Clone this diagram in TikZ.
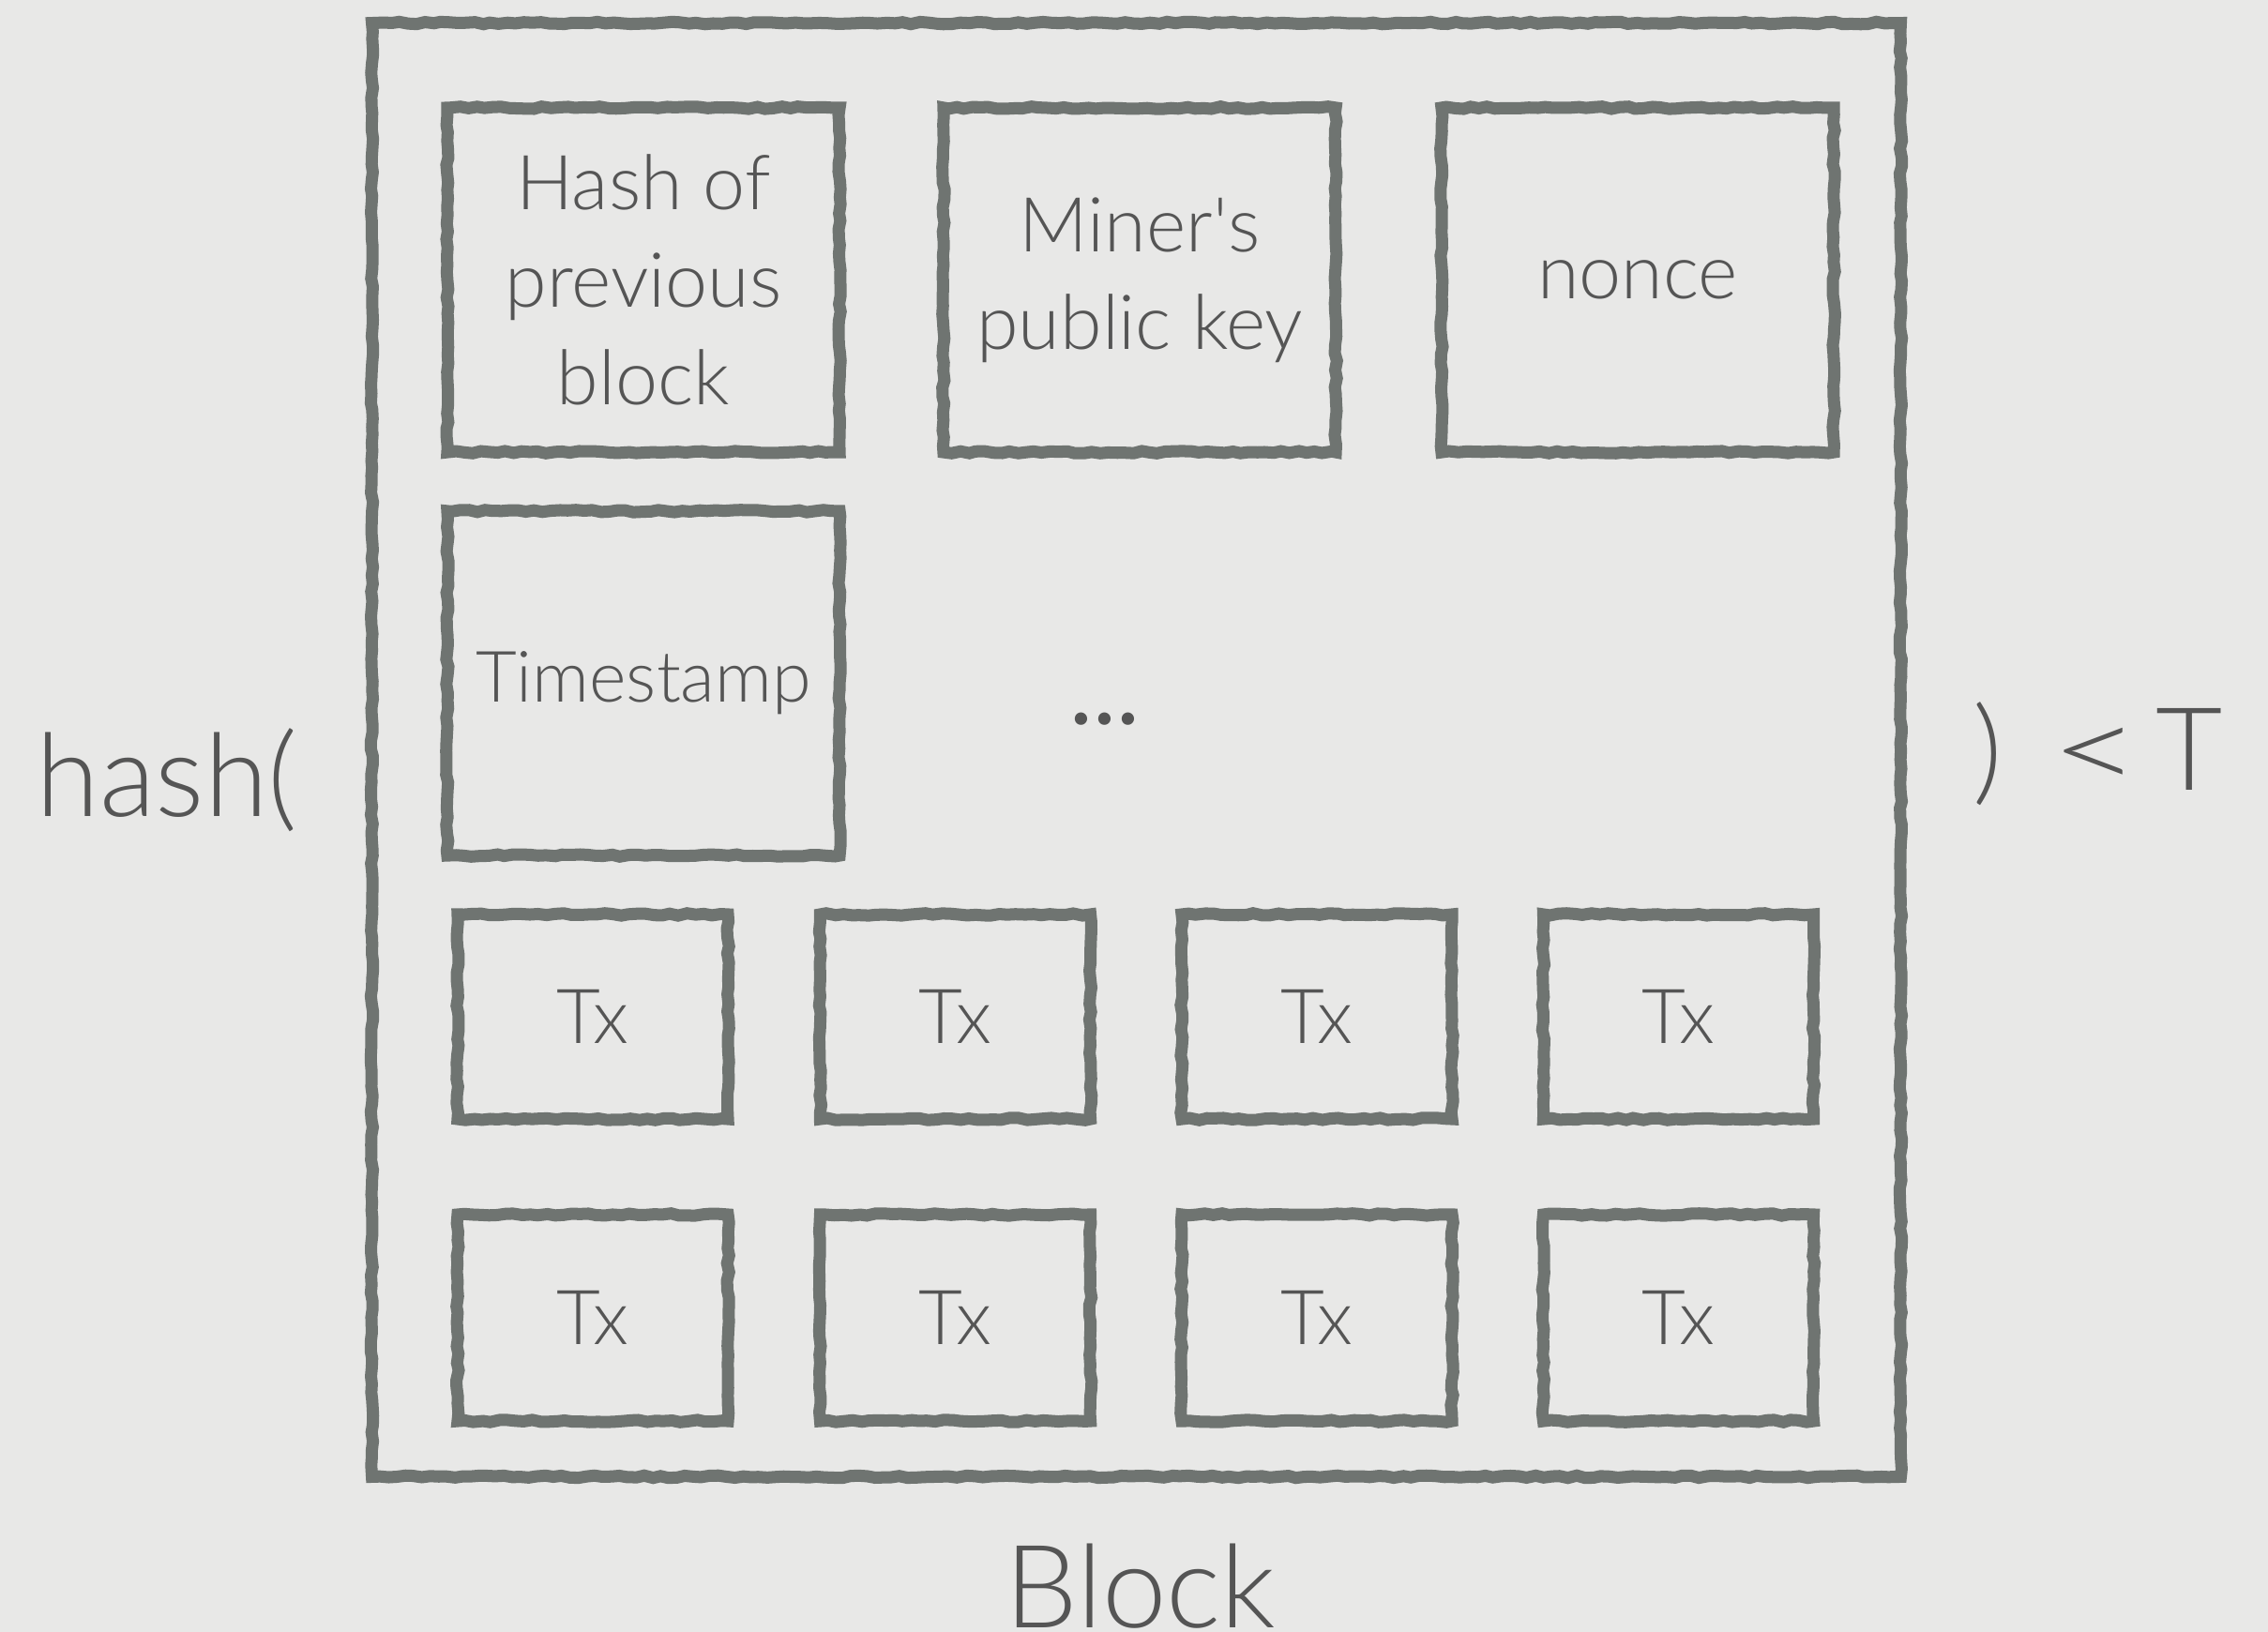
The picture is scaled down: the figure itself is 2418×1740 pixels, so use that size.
\documentclass[tikz,border=0pt]{standalone}
\usepackage{fontspec}
\usepackage{graphicx}
\setmainfont{Lato Light}
\usetikzlibrary{decorations.pathmorphing}
\definecolor{bgc}{HTML}{E8E8E7}
\definecolor{boxc}{HTML}{6F7471}
\definecolor{txtc}{HTML}{555555}
\begin{document}
\begin{tikzpicture}[x=0.01cm,y=-0.01cm,
  box/.style={draw=boxc, line width=3.7pt, inner sep=0pt, align=center, text=txtc,
    decorate, decoration={random steps, segment length=2.5pt, amplitude=0.35pt},
    font=\fontsize{23}{29.6}\selectfont},
  bigtxt/.style={text=txtc, inner sep=0pt, font=\fontsize{35}{40}\selectfont}]
\pgfmathsetseed{7}
\fill[bgc] (0,0) rectangle (2418,1740);
\useasboundingbox (0,0) rectangle (2418,1740);
\node[box, minimum width=16.29cm, minimum height=15.49cm] (block) at (1211.5,799.5) {};
\node[box, minimum width=4.18cm, minimum height=3.67cm] (prev) at (686,298.5) {Hash of\\previous\\block};
\node[box, minimum width=4.18cm, minimum height=3.67cm] (miner) at (1215,298.5) {Miner\textquotesingle s\\public key};
\node[box, minimum width=4.18cm, minimum height=3.67cm] (nonce) at (1746,298.5) {nonce};
\node[box, minimum width=4.18cm, minimum height=3.67cm, font=\fontsize{21.5}{26}\selectfont] (time) at (686,728.5) {Timestamp};
\node[text=txtc, inner sep=0pt, anchor=base, font=\fontsize{30}{30}\fontspec{Lato}] (dots) at (1178,773) {...};
\foreach \x [count=\i] in {632,1018.5,1404,1789.5}{
  \node[box, minimum width=2.88cm, minimum height=2.18cm] (txa\i) at (\x,1084) {Tx};
  \node[box, minimum width=2.88cm, minimum height=2.2cm] (txb\i) at (\x,1405) {Tx};
}
\node[bigtxt, anchor=base west] (hash) at (38,870) {hash(};
\node[bigtxt, anchor=base east] (lt) at (2370,843) {)\hspace{0.42em}\scalebox{1.35}[1]{<}\hspace{0.12em}T};
\node[bigtxt, anchor=base] (lbl) at (1216,1735) {Block};
\end{tikzpicture}
\end{document}
